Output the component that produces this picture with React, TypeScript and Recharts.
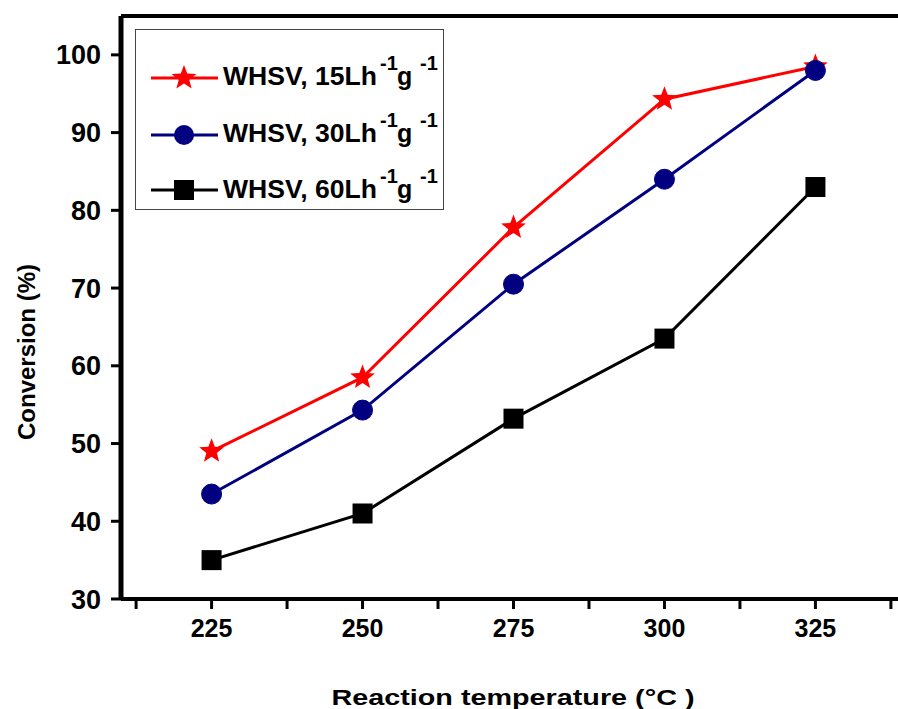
import { LineChart, Line, XAxis, YAxis, Legend, ReferenceLine, Label } from 'recharts';

const temps = [225, 250, 275, 300, 325];
const whsv15 = [49, 58.5, 77.8, 94.3, 98.5];
const whsv30 = [43.5, 54.3, 70.5, 84, 98];
const whsv60 = [35, 41, 53.2, 63.5, 83];
const seriesNames = ['WHSV, 15Lh', 'WHSV, 30Lh', 'WHSV, 60Lh'];
const xTicks = [212.5, 225, 237.5, 250, 262.5, 275, 287.5, 300, 312.5, 325, 337.5];
const yTicks = [30, 40, 50, 60, 70, 80, 90, 100];

const RED = '#ff0000';
const NAVY = '#000080';
const BLACK = '#000000';
const FONT = 'Liberation Sans, Arial, sans-serif';

const rows = temps.map((t, i) => ({ t, a: whsv15[i], b: whsv30[i], c: whsv60[i] }));

function starPoints(cx: number, cy: number, R: number, r: number) {
  const pts: string[] = [];
  for (let i = 0; i < 10; i++) {
    const rad = i % 2 === 0 ? R : r;
    const ang = -Math.PI / 2 + (i * Math.PI) / 5;
    pts.push(`${cx + rad * Math.cos(ang)},${cy + rad * Math.sin(ang)}`);
  }
  return pts.join(' ');
}

const StarDot = (props: any) => {
  const { cx, cy, index } = props;
  return <polygon key={`s-${index}`} points={starPoints(cx, cy, 13, 5.5)} fill={RED} />;
};

const SquareDot = (props: any) => {
  const { cx, cy, index } = props;
  return <rect key={`q-${index}`} x={cx - 10} y={cy - 10} width={20} height={20} fill={BLACK} />;
};

const XTick = (props: any) => {
  const { x, y, payload } = props;
  if (payload.value % 25 !== 0) return <g />;
  return (
    <text x={x} y={y + 26} textAnchor="middle" fontSize={25} fontWeight="bold"
      fontFamily={FONT} fill="#000">
      {payload.value}
    </text>
  );
};

const LegendBox = () => {
  const lineY = [48, 105, 160];
  const baseY = [55, 112, 168];
  const colors = [RED, NAVY, BLACK];
  return (
    <svg width={307} height={179} style={{ display: 'block' }}>
      {seriesNames.map((name, i) => {
        const y = lineY[i];
        const b = baseY[i];
        return (
          <g key={name} fontFamily={FONT} fontWeight="bold" fill="#000">
            <line x1={15} x2={82} y1={y} y2={y} stroke={colors[i]} strokeWidth={3} />
            {i === 0 && <polygon points={starPoints(48, y, 13, 5.5)} fill={RED} />}
            {i === 1 && <circle cx={48} cy={y} r={10} fill={NAVY} />}
            {i === 2 && <rect x={38} y={y - 10} width={20} height={20} fill={BLACK} />}
            <text x={87} y={b} fontSize={25} textLength={154} lengthAdjust="spacingAndGlyphs">{name}</text>
            <text x={244} y={b - 15} fontSize={20}>-1</text>
            <text x={261} y={b} fontSize={25}>g</text>
            <text x={284} y={b - 15} fontSize={20}>-1</text>
          </g>
        );
      })}
    </svg>
  );
};

export default function App() {
  return (
    <div style={{ position: 'fixed', left: 0, top: 0, width: 898, height: 709, overflow: 'hidden', background: '#fff' }}>
      <LineChart width={906} height={709} data={rows} margin={{ top: 16, right: 0, bottom: 0, left: 0 }}>
        <XAxis
          dataKey="t"
          type="number"
          domain={[210, 340]}
          ticks={xTicks}
          interval={0}
          height={110}
          axisLine={{ stroke: '#000', strokeWidth: 4 }}
          tickLine={{ stroke: '#000', strokeWidth: 3 }}
          tickSize={10}
          tick={<XTick />}
        >
          <Label
            content={() => (
              <text x={513} y={705} textAnchor="middle" fontSize={22} fontWeight="bold"
                fontFamily={FONT} fill="#000"
                textLength={363} lengthAdjust="spacingAndGlyphs">
                Reaction temperature (°C )
              </text>
            )}
          />
        </XAxis>
        <YAxis
          type="number"
          domain={[30, 105]}
          ticks={yTicks}
          interval={0}
          width={121}
          axisLine={{ stroke: '#000', strokeWidth: 5 }}
          tickLine={{ stroke: '#000', strokeWidth: 3 }}
          tickSize={10}
          tickMargin={10}
          tick={{ fontSize: 27, fontWeight: 'bold', fill: '#000', fontFamily: FONT }}
        >
          <Label
            content={() => (
              <text x={26} y={352} transform="rotate(-90 26 352)" textAnchor="middle"
                dominantBaseline="central" fontSize={24} fontWeight="bold"
                fontFamily={FONT} fill="#000">
                Conversion (%)
              </text>
            )}
          />
        </YAxis>
        <ReferenceLine y={105} stroke="#000" strokeWidth={4} ifOverflow="visible" />
        <Legend
          layout="vertical"
          align="center"
          verticalAlign="middle"
          content={() => <LegendBox />}
          wrapperStyle={{
            position: 'absolute', left: 135, top: 29, width: 309, height: 181,
            border: '1px solid #444', background: '#fff', boxSizing: 'border-box',
          }}
        />
        <Line type="linear" dataKey="a" name="WHSV 15" stroke={RED} strokeWidth={3}
          dot={StarDot} isAnimationActive={false} />
        <Line type="linear" dataKey="b" name="WHSV 30" stroke={NAVY} strokeWidth={3}
          dot={{ r: 10, fill: NAVY, stroke: NAVY, strokeWidth: 1 }} isAnimationActive={false} />
        <Line type="linear" dataKey="c" name="WHSV 60" stroke={BLACK} strokeWidth={3}
          dot={SquareDot} isAnimationActive={false} />
      </LineChart>
    </div>
  );
}
